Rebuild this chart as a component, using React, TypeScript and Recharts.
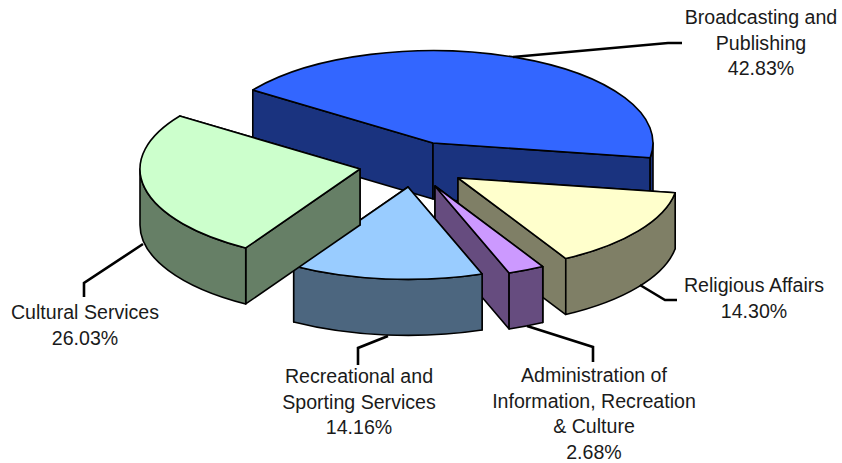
import { PieChart, Pie } from "recharts";

const SECTORS = [
  "Broadcasting and Publishing",
  "Religious Affairs",
  "Administration of Information, Recreation & Culture",
  "Recreational and Sporting Services",
  "Cultural Services",
];
const SHARES = [42.83, 14.3, 2.68, 14.16, 26.03];

const data = SECTORS.map((name, i) => ({ name, value: SHARES[i] }));

const TOP_COLORS = ["#3366FF", "#FFFFCC", "#CC99FF", "#99CCFF", "#CCFFCC"];
const SIDE_COLORS = ["#1A337F", "#7F7F66", "#664C7F", "#4C667F", "#667F66"];

// how far each slice is pulled out of the pie
const EXPLODE = [
  [0, 0],
  [25, 35],
  [2, 43],
  [-25, 44],
  [-73, 26],
];

const TILT = 0.42;
const DEPTH = 56;

// label text and leader lines
const LABEL_LINES = [
  ["Broadcasting and", "Publishing", "42.83%"],
  ["Religious Affairs", "14.30%"],
  ["Administration of", "Information, Recreation", "& Culture", "2.68%"],
  ["Recreational and", "Sporting Services", "14.16%"],
  ["Cultural Services", "26.03%"],
];
const LABEL_POS = [
  [761, 24],
  [754, 292],
  [594, 382],
  [359, 383],
  [85, 319],
];
const LEADERS = [
  "513,57 668,43 682,43",
  "640,285 665,300 677,300",
  "527,326 593,347 593,362",
  "388,336 358,348 358,365",
  "143,244 84,283 84,297",
];

function Slice3D(props: any) {
  const { cx, cy, outerRadius, startAngle, endAngle, index } = props;
  const [dx, dy] = EXPLODE[index];
  const rx = outerRadius;
  const ry = outerRadius * TILT;
  const ax = cx + dx;
  const ay = cy + dy;
  const pt = (a: number) => {
    const r = (a * Math.PI) / 180;
    return [ax + rx * Math.cos(r), ay - ry * Math.sin(r)];
  };
  const [sx, sy] = pt(startAngle);
  const [ex, ey] = pt(endAngle);
  const large = startAngle - endAngle > 180 ? 1 : 0;

  const top = `M${ax},${ay}L${sx},${sy}A${rx},${ry} 0 ${large} 1 ${ex},${ey}Z`;
  const wall = (x: number, y: number) =>
    `M${ax},${ay}L${x},${y}L${x},${y + DEPTH}L${ax},${ay + DEPTH}Z`;
  // the wall reaching further down the picture is nearer, so it goes on last
  const walls = sy > ey ? [wall(ex, ey), wall(sx, sy)] : [wall(sx, sy), wall(ex, ey)];

  // outer rim, only the part facing the viewer
  const hi = Math.min(startAngle, 0);
  const lo = Math.max(endAngle, -180);
  let rim = "";
  if (hi > lo) {
    const [x1, y1] = pt(hi);
    const [x2, y2] = pt(lo);
    rim = `M${x1},${y1}A${rx},${ry} 0 0 1 ${x2},${y2}L${x2},${y2 + DEPTH}A${rx},${ry} 0 0 0 ${x1},${y1 + DEPTH}Z`;
  }

  const edge = { stroke: "#000", strokeWidth: 1.6, strokeLinejoin: "round" as const };
  return (
    <g>
      <path d={walls[0]} fill={SIDE_COLORS[index]} {...edge} />
      <path d={walls[1]} fill={SIDE_COLORS[index]} {...edge} />
      {rim && <path d={rim} fill={SIDE_COLORS[index]} {...edge} />}
      <path d={top} fill={TOP_COLORS[index]} {...edge} />
    </g>
  );
}

function SliceLabel(props: any) {
  const { index } = props;
  const [x, y] = LABEL_POS[index];
  return (
    <g>
      <polyline points={LEADERS[index]} fill="none" stroke="#000" strokeWidth={2.6} />
      <text x={x} y={y} textAnchor="middle" fontFamily="Liberation Sans" fontSize={19.6} fill="#1a1a1a">
        {LABEL_LINES[index].map((line, i) => (
          <tspan key={i} x={x} y={y + i * 25.7}>{line}</tspan>
        ))}
      </text>
    </g>
  );
}

export default function App() {
  return (
    <div style={{ position: "absolute", left: 0, top: 0, width: 842, height: 463, background: "#fff" }}>
      <PieChart width={842} height={463} margin={{ top: 0, right: 0, bottom: 0, left: 0 }}>
        <Pie
          data={data}
          dataKey="value"
          nameKey="name"
          cx={433}
          cy={143}
          outerRadius={220}
          startAngle={145}
          endAngle={-215}
          stroke="none"
          shape={Slice3D}
          label={SliceLabel}
          labelLine={false}
          isAnimationActive={false}
        />
      </PieChart>
    </div>
  );
}
